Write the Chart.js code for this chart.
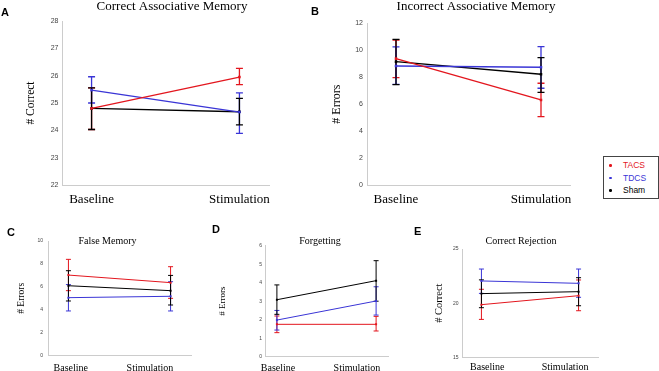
<!DOCTYPE html>
<html>
<head>
<meta charset="utf-8">
<script src="https://cdn.jsdelivr.net/npm/chart.js@4.4.0/dist/chart.umd.min.js"></script>
<style>
  body { margin: 0; background: #fff; width: 659px; height: 371px; overflow: hidden; position: relative; font-family: "Liberation Sans", Arial, sans-serif; }
  canvas { position: absolute; }
  .tag { position: absolute; font-weight: bold; font-size: 11px; line-height: 11px; color: #000; }
  .legend { position: absolute; left: 603px; top: 156px; width: 54px; height: 41px; border: 1px solid #444; background: #fff; font-size: 8.5px; }
  .legend div { position: relative; height: 12.5px; line-height: 12.5px; padding-left: 19px; }
  .legend div:first-child { margin-top: 2px; }
  .legend i { position: absolute; left: 5px; top: 5px; width: 2.5px; height: 2.5px; border-radius: 50%; }
</style>
</head>
<body>
<canvas id="chartA" width="344" height="215" style="left:0px;top:0px"></canvas>
<canvas id="chartB" width="352" height="215" style="left:300px;top:0px"></canvas>
<canvas id="chartC" width="215" height="150" style="left:0px;top:222px"></canvas>
<canvas id="chartD" width="210" height="150" style="left:215px;top:222px"></canvas>
<canvas id="chartE" width="182" height="150" style="left:430px;top:222px"></canvas>

<div class="tag" style="left:1px;top:7px">A</div>
<div class="tag" style="left:311px;top:6px">B</div>
<div class="tag" style="left:7px;top:227px">C</div>
<div class="tag" style="left:212px;top:224px">D</div>
<div class="tag" style="left:414px;top:226px">E</div>

<div class="legend">
  <div style="color:#e3161e"><i style="background:#e3161e"></i>TACS</div>
  <div style="color:#3a35d6"><i style="background:#3a35d6"></i>TDCS</div>
  <div style="color:#000"><i style="background:#000"></i>Sham</div>
</div>

<script>
const xLabels = ['Baseline', 'Stimulation'];
const seriesNames = ['TACS', 'TDCS', 'Sham'];
const seriesColors = ['#e3161e', '#3a35d6', '#000000'];

// A - correct associative memory
const tacsA = [24.8, 25.95], tacsALo = [24.03, 25.67], tacsAHi = [25.55, 26.27];
const tdcsA = [25.47, 24.67], tdcsALo = [25.0, 23.89], tdcsAHi = [25.96, 25.37];
const shamA = [24.8, 24.68], shamALo = [24.03, 24.2], shamAHi = [25.55, 25.17];

// B - incorrect associative memory
const tacsB = [9.38, 6.31], tacsBLo = [7.97, 5.07], tacsBHi = [10.75, 7.55];
const tdcsB = [8.83, 8.74], tdcsBLo = [7.47, 7.18], tdcsBHi = [10.25, 10.27];
const shamB = [9.15, 8.22], shamBLo = [7.45, 6.88], shamBHi = [10.8, 9.45];

// C - false memory
const tacsC = [7.03, 6.37], tacsCLo = [5.67, 5.0], tacsCHi = [8.4, 7.76];
const tdcsC = [5.06, 5.18], tdcsCLo = [3.9, 3.9], tdcsCHi = [6.2, 6.45];
const shamC = [6.1, 5.67], shamCLo = [4.77, 4.42], shamCHi = [7.41, 7.0];

// D - forgetting
const tacsD = [1.75, 1.75], tacsDLo = [1.3, 1.39], tacsDHi = [2.2, 2.18];
const tdcsD = [1.98, 3.01], tdcsDLo = [1.44, 2.25], tdcsDHi = [2.5, 3.78];
const shamD = [3.08, 4.11], shamDLo = [2.29, 3.0], shamDHi = [3.88, 5.19];

// E - correct rejection
const tacsE = [19.86, 20.69], tacsELo = [18.5, 19.3], tacsEHi = [21.28, 22.14];
const tdcsE = [22.05, 21.83], tdcsELo = [20.9, 20.54], tdcsEHi = [23.15, 23.15];
const shamE = [20.88, 21.06], shamELo = [19.58, 19.76], shamEHi = [22.15, 22.35];

const serif = '"Liberation Serif", "Times New Roman", serif';
const sans = '"Liberation Sans", Arial, sans-serif';

// vertical error bars with caps, drawn under the lines
const errorBars = {
  id: 'errorBars',
  beforeDatasetsDraw(chart, args, opts) {
    const { ctx } = chart;
    const x = chart.scales.x, y = chart.scales.y;
    chart.data.datasets.forEach((ds) => {
      ctx.save();
      ctx.strokeStyle = ds.borderColor;
      ctx.lineWidth = opts.width;
      ds.data.forEach((pt, j) => {
        const px = x.getPixelForValue(pt.x);
        const top = y.getPixelForValue(ds.hi[j]);
        const bot = y.getPixelForValue(ds.lo[j]);
        ctx.beginPath();
        ctx.moveTo(px, top); ctx.lineTo(px, bot);
        ctx.moveTo(px - opts.cap, top); ctx.lineTo(px + opts.cap, top);
        ctx.moveTo(px - opts.cap, bot); ctx.lineTo(px + opts.cap, bot);
        ctx.stroke();
      });
      ctx.restore();
    });
  }
};

function panel(id, p) {
  const datasets = p.series.map((s, i) => ({
    label: seriesNames[i],
    data: s[0].map((v, j) => ({ x: j + 1, y: v })),
    lo: s[1],
    hi: s[2],
    borderColor: seriesColors[i],
    backgroundColor: seriesColors[i],
    borderWidth: p.lw,
    pointStyle: 'rect',
    pointRadius: p.pr,
    pointBorderWidth: 0,
    tension: 0,
  }));

  new Chart(document.getElementById(id), {
    type: 'line',
    data: { datasets },
    options: {
      responsive: false,
      animation: false,
      layout: { padding: 0 },
      plugins: {
        legend: { display: false },
        tooltip: { enabled: false },
        errorBars: { width: p.lw, cap: p.cap },
        title: {
          display: true,
          text: p.title,
          color: '#000',
          font: { family: serif, size: p.titleSize, weight: 'normal', lineHeight: 1.2 },
          padding: { top: p.titleTop, bottom: p.titleBottom },
        },
      },
      scales: {
        x: {
          type: 'linear',
          min: p.xMin,
          max: p.xMax,
          afterBuildTicks: (s) => { s.ticks = p.labelAt.map((v) => ({ value: v })); },
          afterFit: (s) => { s.height = p.xHeight; s.paddingLeft = 0; s.paddingRight = 0; },
          grid: { drawOnChartArea: false, drawTicks: false },
          border: { color: '#cccccc' },
          ticks: {
            autoSkip: false,
            maxRotation: 0,
            padding: p.xPad,
            color: '#000',
            font: { family: serif, size: p.xSize },
            callback: (v, i) => xLabels[i],
          },
        },
        y: {
          min: p.yMin,
          max: p.yMax,
          afterFit: (s) => { s.width = p.yWidth; s.paddingTop = 0; s.paddingBottom = 0; },
          grid: { drawOnChartArea: false, drawTicks: false },
          border: { color: '#cccccc' },
          ticks: {
            stepSize: p.yStep,
            padding: p.yPad,
            color: '#444',
            font: { family: sans, size: p.tickSize },
          },
          title: {
            display: true,
            text: p.yTitle,
            color: '#000',
            font: { family: serif, size: p.yTitleSize, lineHeight: 1.2 },
            padding: { top: p.yTitlePad, bottom: 0 },
          },
        },
        // empty right box so the title centre can sit where the original has it
        spacer: {
          type: 'linear',
          position: 'right',
          grid: { display: false },
          border: { display: false },
          ticks: { display: false },
          afterFit: (s) => { s.width = p.rightGap; s.paddingTop = 0; s.paddingBottom = 0; },
        },
      },
    },
    plugins: [errorBars],
  });
}

const big = { lw: 1.3, pr: 1.8, cap: 3.5, titleSize: 13, xSize: 13, xHeight: 30, xPad: 7.2, tickSize: 7, xMin: 0.8, xMax: 2.2, labelAt: [1, 2] };
const small = { lw: 1, pr: 1.4, cap: 2.5, titleSize: 10, xSize: 10, tickSize: 5, xMin: 0.8, xMax: 2.2 };

panel('chartA', Object.assign({}, big, {
  series: [[tacsA, tacsALo, tacsAHi], [tdcsA, tdcsALo, tdcsAHi], [shamA, shamALo, shamAHi]],
  title: 'Correct Associative Memory', titleTop: -1.3, titleBottom: 6.7,
  yMin: 22, yMax: 28, yStep: 1, yWidth: 62, yPad: 3.5,
  yTitle: '# Correct', yTitleSize: 11.5, yTitlePad: 24, rightGap: 75,
}));

panel('chartB', Object.assign({}, big, {
  series: [[tacsB, tacsBLo, tacsBHi], [tdcsB, tdcsBLo, tdcsBHi], [shamB, shamBLo, shamBHi]],
  title: 'Incorrect Associative Memory', titleTop: -1.3, titleBottom: 9,
  yMin: 0, yMax: 12, yStep: 2, yWidth: 67, yPad: 4,
  yTitle: '# Errors', yTitleSize: 12, yTitlePad: 29.8, rightGap: 82,
}));

panel('chartC', Object.assign({}, small, {
  series: [[tacsC, tacsCLo, tacsCHi], [tdcsC, tdcsCLo, tdcsCHi], [shamC, shamCLo, shamCHi]],
  title: 'False Memory', titleTop: 13.7, titleBottom: -6.7,
  xHeight: 16.3, xPad: 6.6, labelAt: [1.023, 1.798],
  yMin: 0, yMax: 10, yStep: 2, yWidth: 48, yPad: 5,
  yTitle: '# Errors', yTitleSize: 9.5, yTitlePad: 16, rightGap: 24,
}));

panel('chartD', Object.assign({}, small, {
  series: [[tacsD, tacsDLo, tacsDHi], [tdcsD, tdcsDLo, tdcsDHi], [shamD, shamDLo, shamDHi]],
  title: 'Forgetting', titleTop: 13.7, titleBottom: -2,
  xMin: 0.88, xMax: 2.12, xHeight: 15.3, xPad: 5.3, labelAt: [1.011, 1.807],
  yMin: 0, yMax: 6, yStep: 1, yWidth: 50, yPad: 3,
  yTitle: '# Errors', yTitleSize: 9, yTitlePad: 2.1, rightGap: 37,
}));

panel('chartE', Object.assign({}, small, {
  series: [[tacsE, tacsELo, tacsEHi], [tdcsE, tdcsELo, tdcsEHi], [shamE, shamELo, shamEHi]],
  title: 'Correct Rejection', titleTop: 13, titleBottom: 2,
  xHeight: 14.7, xPad: 4.4, labelAt: [1.06, 1.861],
  yMin: 15, yMax: 25, yStep: 5, yWidth: 32, yPad: 3.4,
  yTitle: '# Correct', yTitleSize: 10.5, yTitlePad: 2.7, rightGap: 14,
}));
</script>
</body>
</html>
